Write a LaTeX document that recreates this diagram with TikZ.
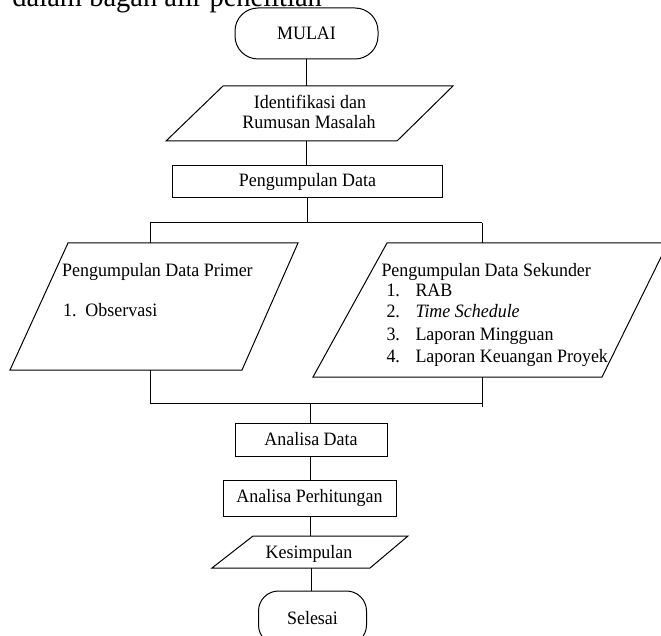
\documentclass[tikz,border=0pt]{standalone}
\usepackage{fontspec}
\setmainfont[FakeStretch=0.95]{Liberation Serif}
\begin{document}
\begin{tikzpicture}[x=1pt,y=-1pt, line width=1pt,
  every node/.style={font=\fontsize{18.9}{20.5}\selectfont},
  term/.style={draw, rounded corners=23pt, inner sep=0pt},
  box/.style={draw, inner sep=0pt},
  txt/.style={inner sep=0pt},
  shp/.style={draw, line join=miter}]
\useasboundingbox[fill=white] (0,0) rectangle (661,636);

% clipped intro line
\node[txt, anchor=base west, font=\fontsize{30}{32}\selectfont] (intro) at (12,7) {dalam bagan alir penelitian};

% MULAI
\node[term, minimum width=143pt, minimum height=51pt] (mulai) at (306.5,33.5) {MULAI};

% Identifikasi
\coordinate (identtop) at (306.5,86);
\coordinate (identbot) at (306.5,141);
\draw[shp] (223,86) -- (453,86) -- (397,141) -- (166,141) -- cycle;
\node[txt, anchor=base] (ident1) at (310,108.3) {Identifikasi dan};
\node[txt, anchor=base] (ident2) at (309,128.3) {Rumusan Masalah};

% Pengumpulan Data
\node[box, minimum width=270pt, minimum height=32pt] (pd) at (307.5,182) {Pengumpulan Data};

% split
\coordinate (split) at (307.5,223);
\coordinate (splitL) at (150,223);
\coordinate (splitR) at (482,223);
\coordinate (primtop) at (150,243);
\coordinate (sektop) at (482,243);

% Primer
\draw[shp] (68,243) -- (298,243) -- (242,370) -- (10,370) -- cycle;
\node[txt, anchor=base west] (prim) at (61.7,276.7) {Pengumpulan Data Primer};
\node[txt, anchor=base west] (p1) at (62.7,316.7) {\makebox[22.3pt][l]{1.}Observasi};

% Sekunder
\draw[shp] (387,243) -- (668,243) -- (602,377) -- (313,377) -- cycle;
\node[txt, anchor=base west] (sek) at (381,276.7) {Pengumpulan Data Sekunder};
\node[txt, anchor=base west] (s1) at (386,296) {\makebox[29pt][l]{1.}RAB};
\node[txt, anchor=base west] (s2) at (386,317.5) {\makebox[29pt][l]{2.}\textit{Time Schedule}};
\node[txt, anchor=base west] (s3) at (386,340) {\makebox[29pt][l]{3.}Laporan Mingguan};
\node[txt, anchor=base west] (s4) at (386,362.7) {\makebox[29pt][l]{4.}Laporan Keuangan Proyek};

% merge
\coordinate (primbot) at (150,370);
\coordinate (sekbot) at (482,377);
\coordinate (mergeL) at (150,403);
\coordinate (mergeR) at (482,403);
\coordinate (mergeRend) at (482,407);
\coordinate (mergeC) at (310,403);

% Analisa
\node[box, minimum width=152pt, minimum height=33pt] (ad) at (311,439.5) {Analisa Data};
\node[box, minimum width=173pt, minimum height=36pt] (ap) at (309.5,498) {Analisa Perhitungan};

% Kesimpulan
\draw[shp] (253,536) -- (408,536) -- (370,568) -- (212,568) -- cycle;
\node[txt, anchor=base] (kes) at (309,558.3) {Kesimpulan};
\coordinate (kestop) at (310,536);
\coordinate (kesbot) at (311,568);

% Selesai
\node[term, rounded corners=20pt, minimum width=108pt, minimum height=54pt] (sel) at (312.5,618) {Selesai};

% connectors
\draw (mulai.south) -- (identtop);
\draw (identbot) -- (identbot |- pd.north);
\draw (pd.south) -- (split);
\draw (splitL) -- (splitR);
\draw (splitL) -- (primtop);
\draw (splitR) -- (sektop);
\draw (primbot) -- (mergeL);
\draw (sekbot) -- (mergeRend);
\draw (mergeL) -- (mergeR);
\draw (mergeC) -- (mergeC |- ad.north);
\draw (mergeC |- ad.south) -- (mergeC |- ap.north);
\draw (mergeC |- ap.south) -- (kestop);
\draw (kesbot) -- (kesbot |- sel.north);
\end{tikzpicture}
\end{document}
